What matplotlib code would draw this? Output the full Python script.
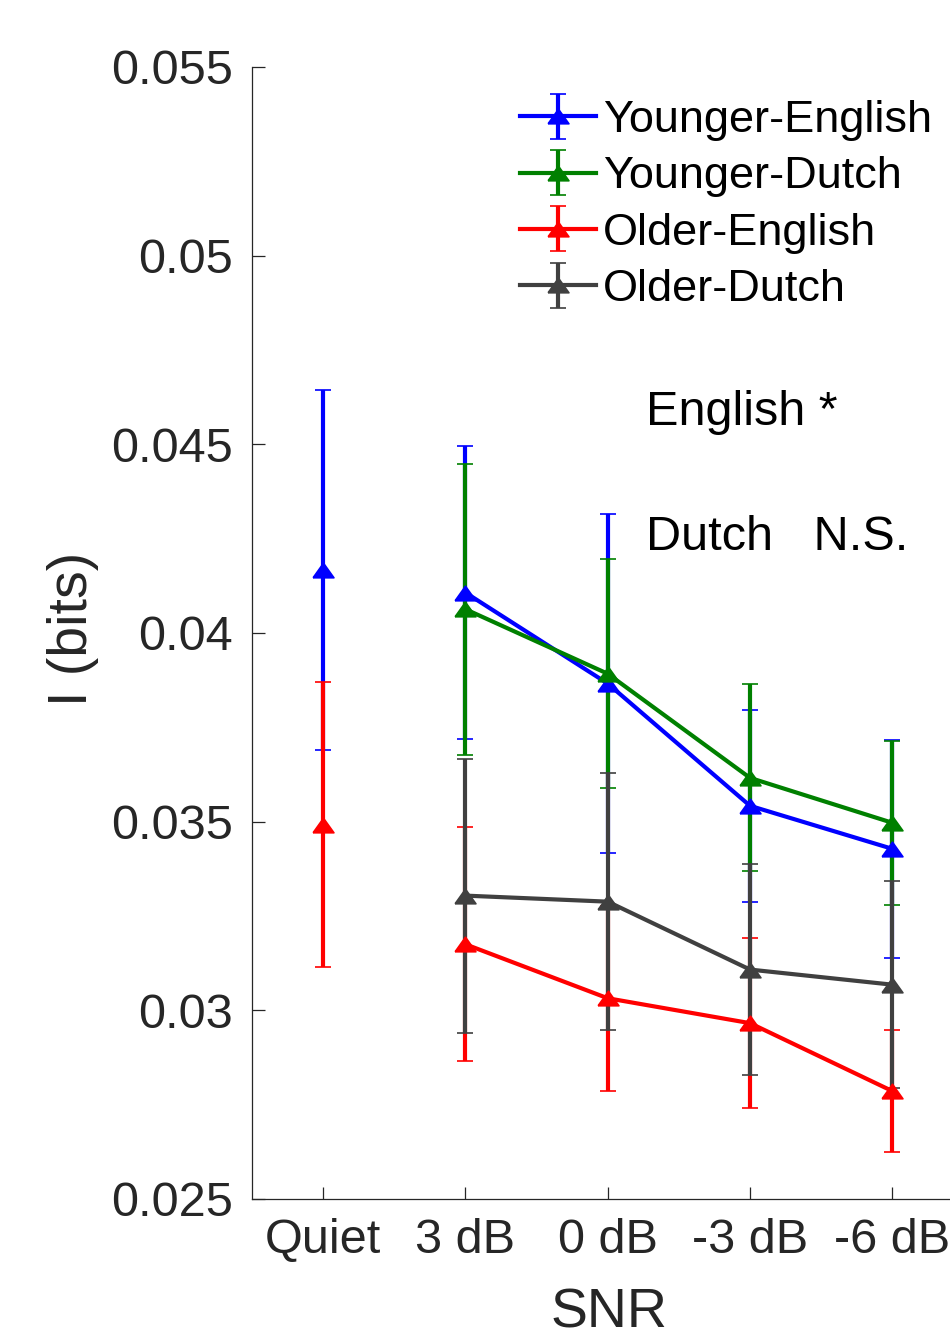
import numpy as np
import matplotlib
matplotlib.use("Agg")
import matplotlib.pyplot as plt
from matplotlib.ticker import FixedLocator, FixedFormatter

plt.rcParams['font.family'] = ['Liberation Sans', 'DejaVu Sans']

# ---- data ----
snr_labels = ['Quiet', '3 dB', '0 dB', '-3 dB', '-6 dB']
ye_mean = [0.04167, 0.04107, 0.03866, 0.03542, 0.03428]
ye_err = [0.00477, 0.00389, 0.00449, 0.00255, 0.00288]
yd_mean = [np.nan, 0.04063, 0.03892, 0.03616, 0.03497]
yd_err = [np.nan, 0.00385, 0.00304, 0.00248, 0.00217]
oe_mean = [0.03492, 0.03175, 0.03032, 0.02966, 0.02786]
oe_err = [0.00377, 0.00310, 0.00245, 0.00226, 0.00161]
od_mean = [np.nan, 0.03304, 0.03288, 0.03108, 0.03068]
od_err = [np.nan, 0.00363, 0.00340, 0.00280, 0.00275]
series_names = ['Younger-English', 'Younger-Dutch', 'Older-English', 'Older-Dutch']
ytick_values = [0.025, 0.03, 0.035, 0.04, 0.045, 0.05, 0.055]
ytick_labels = ['0.025', '0.03', '0.035', '0.04', '0.045', '0.05', '0.055']

colors = ['#0000ff', '#008000', '#ff0000', '#404040']
axis_col = '#262626'

W, H = 950, 1335
fig = plt.figure(figsize=(W / 100, H / 100), dpi=100)
ax = fig.add_axes([252 / W, 1 - 1199 / H, (W - 252) / W, (1199 - 67) / H])

x = np.arange(1, len(snr_labels) + 1)
tri = [(-1, -0.7), (1, -0.7), (0, 0.7), (-1, -0.7)]
style = dict(lw=3, elinewidth=3, capsize=5.5, capthick=3, marker=tri,
             markersize=15, mew=1.2)

handles = []
for m, e, c, name in zip([ye_mean, yd_mean, oe_mean, od_mean],
                         [ye_err, yd_err, oe_err, od_err], colors, series_names):
    m = np.asarray(m, dtype=float)
    e = np.asarray(e, dtype=float)
    # Quiet condition: stand-alone point, not joined to the SNR curve
    if not np.isnan(m[0]):
        ax.errorbar(x[:1], m[:1], yerr=e[:1], color=c, ecolor=c, mec=c, mfc=c,
                    ls='none', **style)
    h = ax.errorbar(x[1:], m[1:], yerr=e[1:], color=c, ecolor=c, mec=c, mfc=c,
                    label=name, **style)
    handles.append(h)

ax.set_xlim(0.5, 0.5 + (W - 251) / 142.5)
ax.set_ylim(0.025, 0.055)
ax.xaxis.set_major_locator(FixedLocator(x))
ax.xaxis.set_major_formatter(FixedFormatter(snr_labels))
ax.yaxis.set_major_locator(FixedLocator(ytick_values))
ax.yaxis.set_major_formatter(FixedFormatter(ytick_labels))

for s in ['top', 'right']:
    ax.spines[s].set_visible(False)
for s in ['left', 'bottom']:
    ax.spines[s].set_color(axis_col)
    ax.spines[s].set_linewidth(0.9)
ax.tick_params(direction='in', length=9, width=0.9, colors=axis_col,
               labelsize=35, pad=14, labelcolor=axis_col)

ax.text(3.267, 0.04551, 'English *', fontsize=35, color='black', va='baseline', ha='left')
ax.text(3.267, 0.0422, 'Dutch   N.S.', fontsize=35, color='black', va='baseline', ha='left')

fig.text(73 / W, 1 - 629 / H, 'I (bits)', rotation=90, fontsize=40,
         color=axis_col, ha='center', va='center')
fig.text(609 / W, 1 - 1328 / H, 'SNR', fontsize=40, color=axis_col,
         ha='center', va='baseline')

leg = ax.legend(handles=handles, loc='upper left',
                bbox_to_anchor=(520 / W, 1 - 100 / H), bbox_transform=fig.transFigure,
                frameon=False, fontsize=32.5, borderpad=0, borderaxespad=0,
                handlelength=1.68, handletextpad=0.15, labelspacing=0.34)

fig.savefig('out.png', dpi=100)
